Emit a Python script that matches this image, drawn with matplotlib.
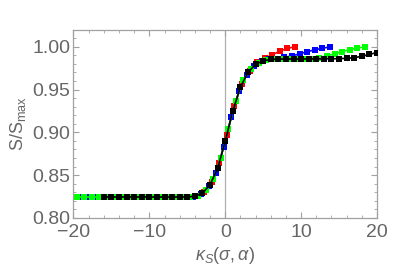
import matplotlib
matplotlib.use("Agg")
import matplotlib.pyplot as plt
from matplotlib.ticker import MultipleLocator

plt.rcParams["font.family"] = ["Liberation Sans", "DejaVu Sans"]
plt.rcParams["mathtext.fontset"] = "custom"
plt.rcParams["mathtext.rm"] = "Liberation Sans"
plt.rcParams["mathtext.it"] = "Liberation Sans:italic"

# ── data ────────────────────────────────────────────
red_x = [-5.8, -4.8, -3.8, -2.8, -1.8, -0.8, 0.2, 1.2, 2.2, 3.2, 4.2,
         5.2, 6.2, 7.2, 8.2, 9.2]
red_y = [0.8245, 0.8247, 0.8259, 0.8305, 0.8420, 0.8640, 0.8972, 0.9310,
         0.9570, 0.9722, 0.9818, 0.9866, 0.9904, 0.9950, 0.9980, 1.0000]

blue_x = [-19.1, -18.1, -17.1, -16.1, -15.1, -14.1, -13.1, -12.1, -11.1,
          -10.1, -9.1, -8.2, -7.2, -6.2, -5.2, -4.2, -3.2, -2.2, -1.2,
          -0.2, 0.8, 1.8, 2.8, 3.8, 4.8, 5.8, 6.8, 7.8, 8.8, 9.8, 10.8,
          11.8, 12.8, 13.8]
blue_y = [0.8245, 0.8245, 0.8245, 0.8245, 0.8245, 0.8245, 0.8245, 0.8245,
          0.8245, 0.8245, 0.8245, 0.8245, 0.8245, 0.8245, 0.8246, 0.8251,
          0.8280, 0.8368, 0.8520, 0.8832, 0.9182, 0.9478, 0.9672, 0.9780,
          0.9832, 0.9852, 0.9862, 0.9875, 0.9893, 0.9916, 0.9942, 0.9963,
          0.9982, 0.9997]

green_x = [-19.6, -18.6, -17.6, -16.6, -15.6, -14.6, -13.6, -12.6, -11.6,
           -10.6, -9.6, -8.6, -7.6, -6.6, -5.6, -4.6, -3.6, -2.6, -1.6,
           -0.6, 0.4, 1.4, 2.4, 3.4, 4.4, 5.4, 6.4, 7.4, 8.4, 9.4, 10.4,
           11.4, 12.4, 13.4, 14.4, 15.4, 16.4, 17.4, 18.4]
green_y = [0.8245, 0.8245, 0.8245, 0.8245, 0.8245, 0.8245, 0.8245, 0.8245,
           0.8245, 0.8245, 0.8245, 0.8245, 0.8245, 0.8245, 0.8245, 0.8247,
           0.8262, 0.8325, 0.8452, 0.8700, 0.9044, 0.9370, 0.9610, 0.9745,
           0.9815, 0.9845, 0.9853, 0.9855, 0.9856, 0.9857, 0.9858, 0.9861,
           0.9870, 0.9892, 0.9918, 0.9942, 0.9965, 0.9984, 0.9998]

black_x = [-16, -15, -14, -13, -12, -11, -10, -9, -8, -7, -6, -5, -4, -3,
           -2, -1, 0, 1, 2, 3, 4, 5, 6, 7, 8, 9, 10, 11, 12, 13, 14, 15,
           16, 17, 18, 19, 20, 21]
black_y = [0.8245, 0.8245, 0.8245, 0.8245, 0.8245, 0.8245, 0.8245, 0.8245,
           0.8245, 0.8245, 0.8245, 0.8246, 0.8254, 0.8290, 0.8390, 0.8580,
           0.8900, 0.9250, 0.9530, 0.9700, 0.9795, 0.9837, 0.9851, 0.9855,
           0.9856, 0.9856, 0.9857, 0.9857, 0.9858, 0.9858, 0.9859, 0.9861,
           0.9864, 0.9872, 0.9888, 0.9910, 0.9932, 0.9956]

series = [
    (red_x, red_y, "#ff0000"),
    (blue_x, blue_y, "#0000ff"),
    (green_x, green_y, "#00ff00"),
    (black_x, black_y, "#000000"),
]

# ── figure ──────────────────────────────────────────
fig = plt.figure(figsize=(4.09, 2.77), dpi=100)
ax = fig.add_axes([0.1797, 0.213, 0.7421, 0.6787])

ax.axvline(0, color="#b0b0b0", lw=0.9, zorder=1)

for xs, ys, col in series:
    ax.plot(xs, ys, color=col, lw=1.2, marker="s", ms=3.7,
            markeredgewidth=0, zorder=3)

ax.set_xlim(-20, 20)
ax.set_ylim(0.80, 1.0195)

ax.xaxis.set_major_locator(MultipleLocator(10))
ax.xaxis.set_minor_locator(MultipleLocator(2))
ax.yaxis.set_major_locator(MultipleLocator(0.05))
ax.yaxis.set_minor_locator(MultipleLocator(0.01))
ax.yaxis.set_major_formatter(plt.FuncFormatter(lambda v, p: f"{v:.2f}"))

label_col = "#666666"
frame_col = "#a0a0a0"
for sp in ax.spines.values():
    sp.set_color(frame_col)
    sp.set_linewidth(0.9)

ax.tick_params(which="both", direction="in", top=True, right=True,
               color=frame_col, labelcolor=label_col, labelsize=14)
ax.tick_params(which="major", length=4.5, width=0.8)
ax.tick_params(which="minor", length=2.5, width=0.6)
ax.tick_params(axis="y", pad=2.5)
ax.tick_params(axis="x", pad=4.5)

ax.set_ylabel(r"S/S$_{\rm max}$", color=label_col, fontsize=13, labelpad=3)
ax.set_xlabel(r"$\kappa_S(\sigma,\alpha)$", color=label_col, fontsize=13,
              labelpad=3)

fig.savefig("out.png", dpi=100)
